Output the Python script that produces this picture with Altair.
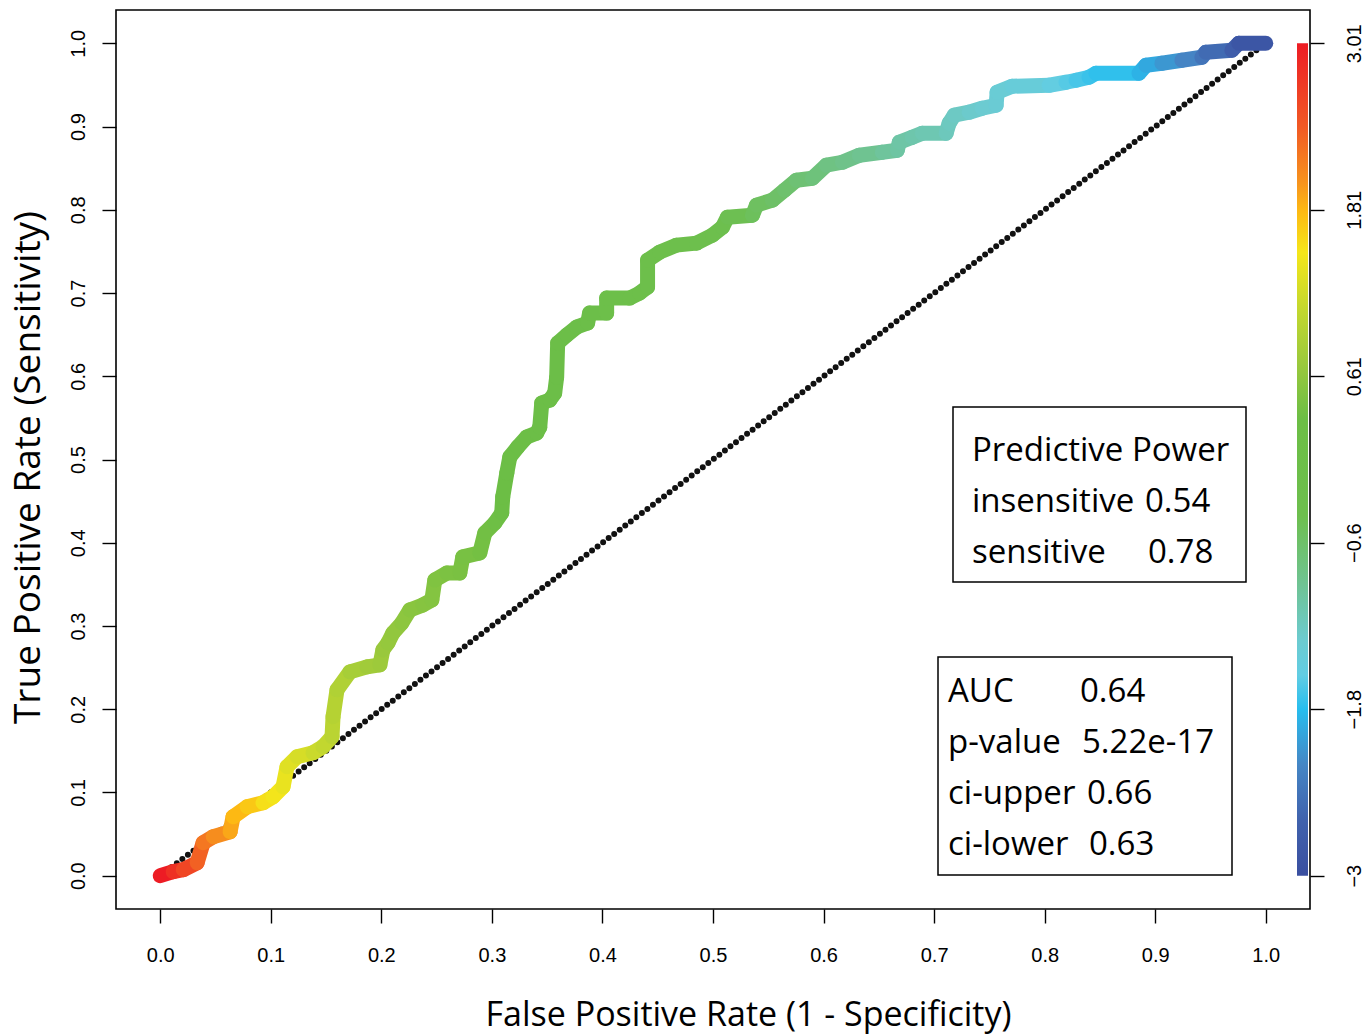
import altair as alt
import pandas as pd

# ---------------- data ----------------
fpr = [0.0, 0.0117, 0.0208, 0.0334, 0.0388, 0.0479, 0.0632, 0.0659, 0.0786, 0.0930,
       0.1021, 0.1111, 0.1147, 0.1238, 0.1382, 0.1472, 0.1554, 0.1563, 0.1599, 0.1716,
       0.1870, 0.1987, 0.2014, 0.2060, 0.2105, 0.2186, 0.2258, 0.2376, 0.2457, 0.2484,
       0.2593, 0.2710, 0.2737, 0.2891, 0.2936, 0.3026, 0.3089, 0.3098, 0.3135, 0.3162,
       0.3234, 0.3315, 0.3406, 0.3433, 0.3451, 0.3523, 0.3568, 0.3586, 0.3595, 0.3677,
       0.3767, 0.3866, 0.3884, 0.4038, 0.4038, 0.4246, 0.4336, 0.4408, 0.4408, 0.4517,
       0.4670, 0.4851, 0.4995, 0.5086, 0.5131, 0.5357, 0.5393, 0.5537, 0.5646, 0.5754,
       0.5899, 0.6025, 0.6170, 0.6323, 0.6531, 0.6667, 0.6685, 0.6802, 0.6893, 0.7109,
       0.7136, 0.7182, 0.7317, 0.7434, 0.7561, 0.7570, 0.7705, 0.8040, 0.8193, 0.8284,
       0.8401, 0.8464, 0.8853, 0.8916, 0.9060, 0.9241, 0.9422, 0.9458, 0.9693, 0.9756,
       1.0]
tpr = [0.0, 0.0048, 0.0072, 0.0156, 0.0396, 0.0468, 0.0528, 0.0708, 0.0828, 0.0876,
       0.0948, 0.1068, 0.1309, 0.1429, 0.1477, 0.1549, 0.1669, 0.1909, 0.2233, 0.2449,
       0.2509, 0.2533, 0.2713, 0.2797, 0.2917, 0.3037, 0.3193, 0.3253, 0.3313, 0.3553,
       0.3637, 0.3637, 0.3830, 0.3878, 0.4118, 0.4238, 0.4358, 0.4550, 0.4838, 0.5030,
       0.5150, 0.5270, 0.5318, 0.5390, 0.5678, 0.5714, 0.5798, 0.5990, 0.6399, 0.6495,
       0.6591, 0.6639, 0.6759, 0.6759, 0.6939, 0.6939, 0.6999, 0.7071, 0.7395, 0.7491,
       0.7575, 0.7599, 0.7695, 0.7791, 0.7911, 0.7935, 0.8055, 0.8115, 0.8235, 0.8355,
       0.8379, 0.8535, 0.8571, 0.8655, 0.8691, 0.8715, 0.8812, 0.8872, 0.8920, 0.8920,
       0.9040, 0.9136, 0.9172, 0.9220, 0.9256, 0.9412, 0.9484, 0.9496, 0.9532, 0.9556,
       0.9592, 0.9640, 0.9640, 0.9736, 0.9760, 0.9796, 0.9832, 0.9892, 0.9916, 1.0,
       1.0]
cutoff = [3.01, 2.8, 2.6, 2.35, 2.2, 2.05, 1.9, 1.8, 1.7, 1.55,
          1.48, 1.4, 1.32, 1.25, 1.15, 1.08, 1.0, 0.95, 0.9, 0.82,
          0.76, 0.72, 0.68, 0.65, 0.62, 0.58, 0.55, 0.52, 0.5, 0.47,
          0.44, 0.42, 0.4, 0.37, 0.35, 0.32, 0.3, 0.28, 0.26, 0.24,
          0.22, 0.2, 0.18, 0.16, 0.14, 0.12, 0.1, 0.08, 0.06, 0.04,
          0.02, 0.0, -0.02, -0.05, -0.07, -0.1, -0.12, -0.15, -0.17, -0.2,
          -0.25, -0.3, -0.35, -0.4, -0.43, -0.5, -0.53, -0.58, -0.62, -0.67,
          -0.72, -0.78, -0.83, -0.88, -0.95, -1.0, -1.02, -1.06, -1.1, -1.17,
          -1.19, -1.22, -1.27, -1.31, -1.35, -1.37, -1.42, -1.52, -1.6, -1.66,
          -1.72, -1.76, -1.88, -1.95, -2.08, -2.22, -2.4, -2.5, -2.7, -2.85,
          -3.0]

cbar_domain = [-3.0, -2.6, -2.2, -1.8, -1.55, -1.3, -0.9, -0.4, 0.3, 0.7,
               1.1, 1.5, 1.8, 2.0, 2.4, 3.01]
cbar_colors = ["#3a4fa0", "#4062ad", "#4586c5", "#27bdee", "#62cde3", "#6ccbd0",
               "#6fc394", "#6dbf4e", "#6cbe45", "#9bc93c", "#c4d82e", "#f5e61a",
               "#fdb913", "#f7941d", "#f15a24", "#ed1c24"]

x_ticks = [0.0, 0.1, 0.2, 0.3, 0.4, 0.5, 0.6, 0.7, 0.8, 0.9, 1.0]
y_ticks = [0.0, 0.1, 0.2, 0.3, 0.4, 0.5, 0.6, 0.7, 0.8, 0.9, 1.0]
right_tick_values = [-3.0, -1.798, -0.596, 0.606, 1.808, 3.01]
right_tick_labels = ["\u22123", "\u22121.8", "\u22120.6", "0.61", "1.81", "3.01"]

box1_labels = ["Predictive Power", "insensitive", "sensitive"]
box1_values = ["", "0.54", "0.78"]
box2_labels = ["AUC", "p-value", "ci-upper", "ci-lower"]
box2_values = ["0.64", "5.22e-17", "0.66", "0.63"]

x_title = "False Positive Rate (1 - Specificity)"
y_title = "True Positive Rate (Sensitivity)"

# ---------------- chart ----------------
W, H = 1194, 899
TICK_FONT = "Liberation Sans Narrow, Liberation Sans, Arial Narrow, sans-serif"
TEXT_FONT = "Open Sans"

xs = alt.Scale(domain=[-0.04, 1.04], nice=False, zero=False)
ys = alt.Scale(domain=[-0.04, 1.04], nice=False, zero=False)

x_axis = alt.Axis(values=x_ticks, format=".1f", tickSize=14, tickWidth=1.4,
                  tickColor="black", domain=False, grid=False,
                  labelPadding=22, labelFont=TICK_FONT, labelFontSize=20,
                  labelColor="black", title=x_title, titleFont=TEXT_FONT,
                  titleFontSize=34, titleFontWeight="normal", titleColor="black",
                  titleX=632, titleY=116, titleAlign="center",
                  titleBaseline="alphabetic")
y_axis = alt.Axis(values=y_ticks, format=".1f", tickSize=14, tickWidth=1.4,
                  tickColor="black", domain=False, grid=False,
                  labelAngle=270, labelAlign="center", labelBaseline="bottom",
                  labelPadding=14, labelFont=TICK_FONT, labelFontSize=20,
                  labelColor="black", title=y_title, titleFont=TEXT_FONT,
                  titleFontSize=37, titleFontWeight="normal", titleColor="black",
                  titleAngle=270, titleX=-77, titleY=457, titleAlign="center",
                  titleBaseline="alphabetic")

diag_df = pd.DataFrame({"x": [0.0], "y": [0.0], "x2": [1.0], "y2": [1.0]})
diag = alt.Chart(diag_df).mark_rule(
    color="#111111", strokeWidth=6, strokeDash=[0, 6.93], strokeCap="round"
).encode(
    x=alt.X("x:Q", scale=xs, axis=x_axis),
    y=alt.Y("y:Q", scale=ys, axis=y_axis),
    x2="x2:Q", y2="y2:Q",
)

seg_df = pd.DataFrame({
    "x": fpr[:-1], "y": tpr[:-1], "x2": fpr[1:], "y2": tpr[1:],
    "c": cutoff[:-1],
})
color_scale = alt.Scale(domain=cbar_domain, range=cbar_colors, interpolate="rgb")
curve = alt.Chart(seg_df).mark_rule(strokeWidth=15, strokeCap="round").encode(
    x=alt.X("x:Q", scale=xs, axis=x_axis),
    y=alt.Y("y:Q", scale=ys, axis=y_axis),
    x2="x2:Q", y2="y2:Q",
    color=alt.Color("c:Q", scale=color_scale, legend=None),
)

# colour bar with right axis
lo, hi = cbar_domain[0], cbar_domain[-1]
span = hi - lo
stops = [alt.GradientStop(color=c, offset=(d - lo) / span)
         for d, c in zip(cbar_domain, cbar_colors)]
grad = alt.Gradient(gradient="linear", stops=stops, x1=0, x2=0, y1=1, y2=0)

label_expr = "''"
for v, l in reversed(list(zip(right_tick_values, right_tick_labels))):
    label_expr = f"abs(datum.value - ({v})) < 0.01 ? '{l}' : ({label_expr})"

right_axis = alt.Axis(orient="right", values=right_tick_values, labelExpr=label_expr,
                      tickSize=14, tickWidth=1.4, tickColor="black", domain=False,
                      grid=False, labelAngle=270, labelAlign="center",
                      labelBaseline="top", labelPadding=20, labelFont=TICK_FONT,
                      labelFontSize=20, labelColor="black", title=None)
cbar_df = pd.DataFrame({"lo": [lo], "hi": [hi]})
cbar = alt.Chart(cbar_df).mark_rect(fill=grad, strokeWidth=0).encode(
    y=alt.Y("lo:Q", scale=alt.Scale(domain=[lo - 0.04 * span, hi + 0.04 * span],
                                    nice=False, zero=False), axis=right_axis),
    y2="hi:Q",
    x=alt.value(1181), x2=alt.value(1192),
)

# annotation boxes
one = pd.DataFrame({"a": [0]})
layers = []
layers.append(alt.Chart(one).mark_rect(fill="white", stroke="black", strokeWidth=1.5)
              .encode(x=alt.value(837), x2=alt.value(1130), y=alt.value(397), y2=alt.value(572)))
layers.append(alt.Chart(one).mark_rect(fill="white", stroke="black", strokeWidth=1.5)
              .encode(x=alt.value(822), x2=alt.value(1116), y=alt.value(647), y2=alt.value(865)))

box1_value_x = [1029, 1029, 1032]
for i, (lab, val) in enumerate(zip(box1_labels, box1_values)):
    layers.append(alt.Chart(pd.DataFrame({"t": [lab]})).mark_text(
        font=TEXT_FONT, fontSize=33, align="left", baseline="alphabetic", color="black"
    ).encode(text="t:N", x=alt.value(856), y=alt.value(451 + 51 * i)))
    if val:
        layers.append(alt.Chart(pd.DataFrame({"t": [val]})).mark_text(
            font=TEXT_FONT, fontSize=33, align="left", baseline="alphabetic", color="black"
        ).encode(text="t:N", x=alt.value(box1_value_x[i]), y=alt.value(451 + 51 * i)))

box2_value_x = [964, 966, 971, 973]
for i, (lab, val) in enumerate(zip(box2_labels, box2_values)):
    layers.append(alt.Chart(pd.DataFrame({"t": [lab]})).mark_text(
        font=TEXT_FONT, fontSize=33, align="left", baseline="alphabetic", color="black"
    ).encode(text="t:N", x=alt.value(832), y=alt.value(692 + 51 * i)))
    layers.append(alt.Chart(pd.DataFrame({"t": [val]})).mark_text(
        font=TEXT_FONT, fontSize=33, align="left", baseline="alphabetic", color="black"
    ).encode(text="t:N", x=alt.value(box2_value_x[i]), y=alt.value(692 + 51 * i)))

chart = alt.layer(
    alt.layer(diag, curve), cbar, *layers
).resolve_scale(y="independent").properties(
    width=W, height=H,
    autosize=alt.AutoSizeParams(type="none"),
    padding={"left": 116, "top": 10, "right": 57, "bottom": 127},
    background="white",
).configure_view(stroke="black", strokeWidth=1.6)

chart.save("out.html", embed_options={"renderer": "svg", "actions": False})
